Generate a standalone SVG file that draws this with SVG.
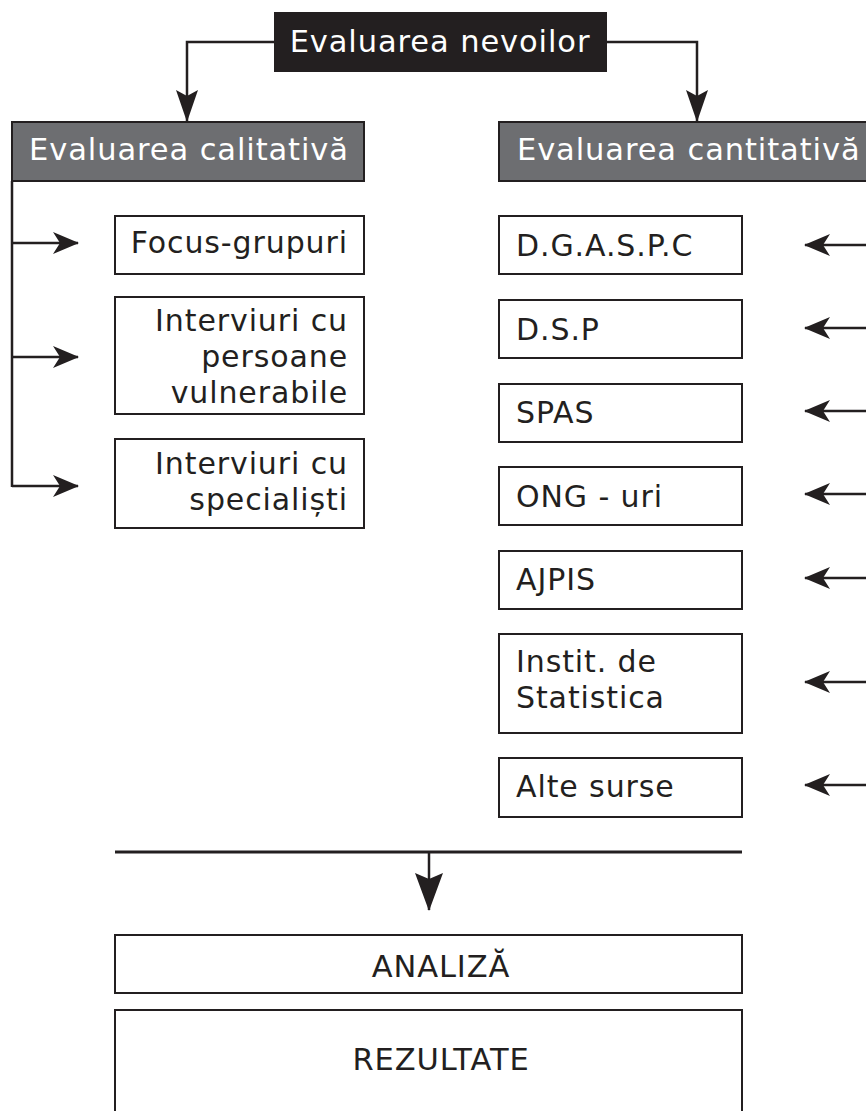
<svg xmlns="http://www.w3.org/2000/svg" width="866" height="1111" viewBox="0 0 866 1111">
<style>
.box{fill:#fff;stroke:#231f20;stroke-width:2}
.hdr{fill:#6d6e71;stroke:#231f20;stroke-width:2}
.ln{fill:none;stroke:#231f20;stroke-width:2.5}
.ht{font-family:"DejaVu Sans",Verdana,sans-serif;font-size:30.5px;letter-spacing:0.9px;fill:#fff}
.bt{font-family:"DejaVu Sans",Verdana,sans-serif;font-size:30px;letter-spacing:0.9px;fill:#231f20}
.ct{font-family:"DejaVu Sans",Verdana,sans-serif;font-size:30.5px;letter-spacing:0.9px;fill:#231f20;text-anchor:middle}
</style>
<defs>
<marker id="a" viewBox="0 0 26 22" refX="25" refY="11" markerWidth="26" markerHeight="22" markerUnits="userSpaceOnUse" orient="auto">
<path d="M0,0 L26,11 L0,22 L7,11 Z" fill="#231f20"/>
</marker>
<marker id="at" viewBox="0 0 32 22" refX="31" refY="11" markerWidth="32" markerHeight="22" markerUnits="userSpaceOnUse" orient="auto">
<path d="M0,0 L32,11 L0,22 L6,11 Z" fill="#231f20"/>
</marker>
<marker id="ab" viewBox="0 0 38 28" refX="37" refY="14" markerWidth="38" markerHeight="28" markerUnits="userSpaceOnUse" orient="auto">
<path d="M0,0 L38,14 L0,28 L6,14 Z" fill="#231f20"/>
</marker>
</defs>

<g id="connectors">
<path class="ln" d="M275,42 H187 V121" marker-end="url(#at)"/>
<path class="ln" d="M607,42 H697 V121" marker-end="url(#at)"/>
<path class="ln" d="M12,181 V487"/>
<path class="ln" d="M12,243 H78" marker-end="url(#a)"/>
<path class="ln" d="M12,357 H78" marker-end="url(#a)"/>
<path class="ln" d="M12,486 H78" marker-end="url(#a)"/>
<path class="ln" d="M866,245 H805" marker-end="url(#a)"/>
<path class="ln" d="M866,328 H805" marker-end="url(#a)"/>
<path class="ln" d="M866,411 H805" marker-end="url(#a)"/>
<path class="ln" d="M866,494 H805" marker-end="url(#a)"/>
<path class="ln" d="M866,578 H805" marker-end="url(#a)"/>
<path class="ln" d="M866,682 H805" marker-end="url(#a)"/>
<path class="ln" d="M866,785 H805" marker-end="url(#a)"/>
<path class="ln" d="M115,852 H742" style="stroke-width:3"/>
<path class="ln" d="M429,852 V910" marker-end="url(#ab)"/>
</g>

<g id="n-top">
<rect x="274" y="12" width="333" height="60" fill="#231f20"/>
<text class="ht" x="440" y="52" text-anchor="middle">Evaluarea nevoilor</text>
</g>
<g id="n-cal">
<rect class="hdr" x="12" y="122" width="352" height="59"/>
<text class="ht" x="189" y="160" text-anchor="middle">Evaluarea calitativă</text>
</g>
<g id="n-cant">
<rect class="hdr" x="499" y="122" width="380" height="59"/>
<text class="ht" x="517" y="160">Evaluarea cantitativă</text>
</g>

<g id="n-focus">
<rect class="box" x="115" y="216" width="249" height="58"/>
<text class="bt" x="348" y="253" text-anchor="end">Focus-grupuri</text>
</g>
<g id="n-intv">
<rect class="box" x="115" y="297" width="249" height="117"/>
<text class="bt" text-anchor="end"><tspan x="348" y="331">Interviuri cu</tspan><tspan x="348" y="367">persoane</tspan><tspan x="348" y="403">vulnerabile</tspan></text>
</g>
<g id="n-spec">
<rect class="box" x="115" y="439" width="249" height="89"/>
<text class="bt" text-anchor="end"><tspan x="348" y="474">Interviuri cu</tspan><tspan x="348" y="510">specialiști</tspan></text>
</g>

<g id="n-dgaspc">
<rect class="box" x="499" y="216" width="243" height="58"/>
<text class="bt" x="516" y="256">D.G.A.S.P.C</text>
</g>
<g id="n-dsp">
<rect class="box" x="499" y="300" width="243" height="58"/>
<text class="bt" x="516" y="340">D.S.P</text>
</g>
<g id="n-spas">
<rect class="box" x="499" y="384" width="243" height="58"/>
<text class="bt" x="516" y="423">SPAS</text>
</g>
<g id="n-ong">
<rect class="box" x="499" y="467" width="243" height="58"/>
<text class="bt" x="516" y="507">ONG - uri</text>
</g>
<g id="n-ajpis">
<rect class="box" x="499" y="551" width="243" height="58"/>
<text class="bt" x="516" y="590">AJPIS</text>
</g>
<g id="n-inst">
<rect class="box" x="499" y="634" width="243" height="99"/>
<text class="bt"><tspan x="516" y="672">Instit. de</tspan><tspan x="516" y="708">Statistica</tspan></text>
</g>
<g id="n-alte">
<rect class="box" x="499" y="758" width="243" height="59"/>
<text class="bt" x="516" y="797">Alte surse</text>
</g>

<g id="n-analiza">
<rect class="box" x="115" y="935" width="627" height="58"/>
<text class="ct" x="441" y="977">ANALIZĂ</text>
</g>
<g id="n-rez">
<rect class="box" x="115" y="1010" width="627" height="120"/>
<text class="ct" x="441" y="1070">REZULTATE</text>
</g>
</svg>
